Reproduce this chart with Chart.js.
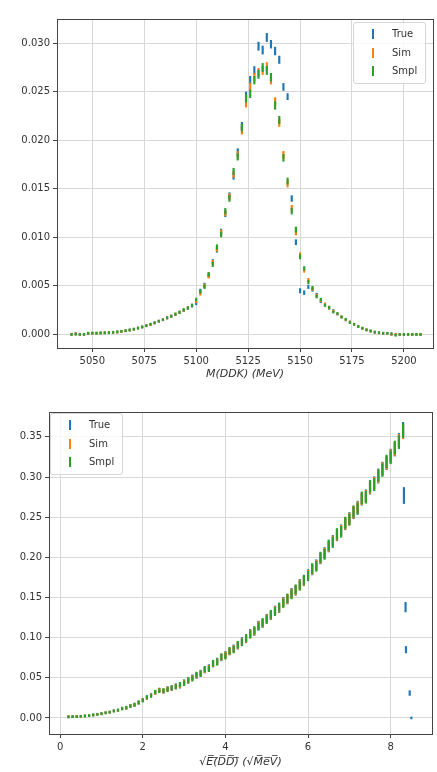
<!DOCTYPE html>
<html lang="en">
<head>
<meta charset="UTF-8" />
<title>True / Sim / Smpl</title>
<style>
  body { margin: 0; background: #fff; font-family: 'DejaVu Sans', sans-serif; }
  .wrap { position: relative; width: 437px; height: 772px; }
  canvas { position: absolute; left: 0; }
  #topChart { top: 0; }
  #botChart { top: 386px; }
  .legend { position: absolute; background: rgba(255,255,255,0.8); border: 1px solid #d6d6d6; border-radius: 3px; font-size: 10px; color: #333; padding: 2px 0; }
  .legend div { position: relative; height: 18.5px; line-height: 18.5px; padding-left: 38px; padding-right: 8px; }
  .legend span { position: absolute; left: 18px; top: 4px; width: 1.5px; height: 10px; }
</style>
</head>
<body>
<div class="wrap">
  <canvas id="topChart" width="437" height="386"></canvas>
  <canvas id="botChart" width="437" height="386"></canvas>
  <div class="legend" style="left:353px; top:22px;">
    <div><span style="background:#1f77b4"></span>True</div>
    <div><span style="background:#ff7f0e"></span>Sim</div>
    <div><span style="background:#2ca02c"></span>Smpl</div>
  </div>
  <div class="legend" style="left:50px; top:413px;">
    <div><span style="background:#1f77b4"></span>True</div>
    <div><span style="background:#ff7f0e"></span>Sim</div>
    <div><span style="background:#2ca02c"></span>Smpl</div>
  </div>
</div>

<script src="https://cdn.jsdelivr.net/npm/chart.js"></script>
<script>
// ---- top panel: M(DDK) spectrum, 2 MeV bins ----
const massX = [
  5040, 5042, 5044, 5046, 5048, 5050, 5052, 5054, 5056, 5058,
  5060, 5062, 5064, 5066, 5068, 5070, 5072, 5074, 5076, 5078,
  5080, 5082, 5084, 5086, 5088, 5090, 5092, 5094, 5096, 5098,
  5100, 5102, 5104, 5106, 5108, 5110, 5112, 5114, 5116, 5118,
  5120, 5122, 5124, 5126, 5128, 5130, 5132, 5134, 5136, 5138,
  5140, 5142, 5144, 5146, 5148, 5150, 5152, 5154, 5156, 5158,
  5160, 5162, 5164, 5166, 5168, 5170, 5172, 5174, 5176, 5178,
  5180, 5182, 5184, 5186, 5188, 5190, 5192, 5194, 5196, 5198,
  5200, 5202, 5204, 5206, 5208
];
const massTrue = [
  0, 0, 0.00001, 0.00002, 0.00004, 0.00004, 0.00005, 0.00008, 0.00009, 0.00011,
  0.00015, 0.00021, 0.00025, 0.00033, 0.00042, 0.00049, 0.00063, 0.00073, 0.00089, 0.001,
  0.0012, 0.00134, 0.00154, 0.00168, 0.0019, 0.00205, 0.0023, 0.00248, 0.00275, 0.00295,
  0.0032, 0.0045, 0.0051, 0.0061, 0.0075, 0.0087, 0.0106, 0.0124, 0.0143, 0.0163,
  0.0188, 0.0215, 0.0246, 0.0262, 0.0272, 0.0297, 0.0293, 0.0306, 0.0299, 0.0292,
  0.0283, 0.0255, 0.0245, 0.014, 0.0095, 0.0045, 0.0043, 0.0049, 0.0046, 0.0041,
  0.0034, 0.0031, 0.0027, 0.00245, 0.0021, 0.00182, 0.00148, 0.00126, 0.00098, 0.0008,
  0.00057, 0.00043, 0.00027, 0.00017, 0.00008, 0.00004, 0.00002, 0.00001, 0, 0,
  0, 0, 0, 0, 0
];
const massSim = [
  0, 0, 0.00001, 0.00002, 0.00003, 0.00004, 0.00005, 0.00007, 0.00009, 0.00012,
  0.00015, 0.0002, 0.00026, 0.00033, 0.00041, 0.0005, 0.00062, 0.00074, 0.00088, 0.00102,
  0.00118, 0.00136, 0.00152, 0.0017, 0.00188, 0.00207, 0.00228, 0.0025, 0.00272, 0.00298,
  0.0034, 0.0042, 0.005, 0.006, 0.0074, 0.0088, 0.0105, 0.0125, 0.0142, 0.0165,
  0.0185, 0.021, 0.0238, 0.0255, 0.0265, 0.027, 0.0272, 0.0276, 0.0262, 0.024,
  0.0218, 0.0185, 0.0155, 0.013, 0.0105, 0.0082, 0.0066, 0.0056, 0.0047, 0.004,
  0.0035, 0.0031, 0.00275, 0.0024, 0.0021, 0.0018, 0.0015, 0.00125, 0.001, 0.00078,
  0.00058, 0.00042, 0.00028, 0.00016, 0.00008, 0.00004, 0.00002, 0.00001, 0, 0,
  0, 0, 0, 0, 0
];
const massSmpl = [
  0, 0.00001, 0.00001, 0.00002, 0.00003, 0.00005, 0.00006, 0.00007, 0.0001, 0.00013,
  0.00016, 0.00019, 0.00027, 0.00034, 0.0004, 0.00052, 0.0006, 0.00076, 0.00086, 0.00105,
  0.00116, 0.00138, 0.0015, 0.00173, 0.00185, 0.0021, 0.00225, 0.00254, 0.0027, 0.003,
  0.0036, 0.0044, 0.0049, 0.0062, 0.0072, 0.009, 0.0103, 0.0127, 0.014, 0.0168,
  0.0183, 0.0213, 0.0243, 0.0248, 0.0262, 0.0268, 0.0275, 0.0272, 0.0265, 0.0236,
  0.0221, 0.0182, 0.0158, 0.0127, 0.0108, 0.008, 0.0068, 0.0054, 0.0048, 0.0039,
  0.0036, 0.003, 0.0028, 0.0023, 0.00215, 0.00175, 0.00155, 0.0012, 0.00102, 0.00076,
  0.0006, 0.0004, 0.0003, 0.00015, 0.00009, 0.00003, 0.00002, 0, 0.00001, 0,
  0, 0, 0, 0, 0
];
const massErr = [
  0, 0.00001, 0.00001, 0.00002, 0.00002, 0.00002, 0.00003, 0.00003, 0.00003, 0.00004,
  0.00004, 0.00005, 0.00005, 0.00006, 0.00006, 0.00007, 0.00007, 0.00008, 0.00008, 0.00009,
  0.00009, 0.0001, 0.0001, 0.00011, 0.00011, 0.00012, 0.00012, 0.00013, 0.00013, 0.00014,
  0.00015, 0.00017, 0.00019, 0.0002, 0.00022, 0.00024, 0.00026, 0.00028, 0.0003, 0.00032,
  0.00034, 0.00036, 0.00038, 0.0004, 0.0004, 0.00042, 0.00042, 0.00042, 0.0004, 0.0004,
  0.00038, 0.00036, 0.00032, 0.0003, 0.00026, 0.00022, 0.0002, 0.00018, 0.00016, 0.00015,
  0.00014, 0.00013, 0.00012, 0.00011, 0.0001, 0.00009, 0.00009, 0.00008, 0.00007, 0.00006,
  0.00005, 0.00005, 0.00004, 0.00003, 0.00002, 0.00002, 0.00001, 0.00001, 0, 0,
  0, 0, 0, 0, 0
];
const massXTicks = [5050, 5075, 5100, 5125, 5150, 5175, 5200];
const massYTicks = [0, 0.005, 0.010, 0.015, 0.020, 0.025, 0.030];

// ---- bottom panel: sqrt(E(DD)) spectrum ----
const energyX = [
  0.2, 0.3, 0.4, 0.5, 0.6, 0.7, 0.8, 0.9, 1.0, 1.1,
  1.2, 1.3, 1.4, 1.5, 1.6, 1.7, 1.8, 1.9, 2.0, 2.1,
  2.2, 2.3, 2.4, 2.5, 2.6, 2.7, 2.8, 2.9, 3.0, 3.1,
  3.2, 3.3, 3.4, 3.5, 3.6, 3.7, 3.8, 3.9, 4.0, 4.1,
  4.2, 4.3, 4.4, 4.5, 4.6, 4.7, 4.8, 4.9, 5.0, 5.1,
  5.2, 5.3, 5.4, 5.5, 5.6, 5.7, 5.8, 5.9, 6.0, 6.1,
  6.2, 6.3, 6.4, 6.5, 6.6, 6.7, 6.8, 6.9, 7.0, 7.1,
  7.2, 7.3, 7.4, 7.5, 7.6, 7.7, 7.8, 7.9, 8.0, 8.1,
  8.2, 8.3
];
const energyTrue = [
  0.0005, 0.0005, 0.001, 0.0011, 0.0019, 0.0024, 0.0032, 0.0043, 0.0049, 0.0065,
  0.0069, 0.009, 0.0093, 0.012, 0.0122, 0.0153, 0.016, 0.0196, 0.0222, 0.0255,
  0.0282, 0.032, 0.0348, 0.0332, 0.0365, 0.0366, 0.0398, 0.04, 0.0446, 0.046,
  0.0505, 0.0525, 0.0562, 0.0595, 0.0628, 0.067, 0.0708, 0.075, 0.0788, 0.0825,
  0.0868, 0.09, 0.0958, 0.098, 0.1058, 0.1075, 0.1158, 0.1175, 0.1242, 0.1275,
  0.1342, 0.1365, 0.1448, 0.1475, 0.1558, 0.1585, 0.1668, 0.1705, 0.1788, 0.1842,
  0.1908, 0.1982, 0.2058, 0.2132, 0.2208, 0.2272, 0.2338, 0.2412, 0.2488, 0.2552,
  0.2628, 0.2722, 0.2768, 0.2862, 0.2928, 0.3002, 0.3108, 0.3172, 0.3268, 0.3342,
  0.3462, 0.3598
];
const energySim = [
  0.0005, 0.0006, 0.0009, 0.0012, 0.0017, 0.0025, 0.0031, 0.0042, 0.005, 0.0063,
  0.0071, 0.0088, 0.0095, 0.0118, 0.0125, 0.015, 0.0163, 0.0192, 0.0225, 0.025,
  0.0285, 0.0315, 0.0345, 0.0335, 0.036, 0.037, 0.0392, 0.0405, 0.044, 0.0465,
  0.05, 0.053, 0.0555, 0.06, 0.062, 0.0675, 0.07, 0.0755, 0.078, 0.083,
  0.086, 0.0905, 0.095, 0.0985, 0.105, 0.108, 0.115, 0.118, 0.1235, 0.128,
  0.1335, 0.137, 0.144, 0.148, 0.155, 0.159, 0.166, 0.171, 0.178, 0.185,
  0.19, 0.199, 0.205, 0.214, 0.22, 0.228, 0.233, 0.242, 0.248, 0.256,
  0.262, 0.273, 0.276, 0.287, 0.292, 0.301, 0.31, 0.318, 0.326, 0.335,
  0.345, 0.356
];
const energySmpl = [
  0.0004, 0.0007, 0.0008, 0.0013, 0.0018, 0.0023, 0.0033, 0.004, 0.0052, 0.006,
  0.0074, 0.0085, 0.0099, 0.0113, 0.013, 0.0146, 0.0168, 0.0188, 0.0218, 0.0258,
  0.0278, 0.0322, 0.0338, 0.0342, 0.0352, 0.0378, 0.0386, 0.0415, 0.0432, 0.0474,
  0.049, 0.0538, 0.0548, 0.0608, 0.0612, 0.0682, 0.0694, 0.0762, 0.0772, 0.0838,
  0.0852, 0.0912, 0.0942, 0.0995, 0.1038, 0.1092, 0.1138, 0.119, 0.1225, 0.129,
  0.1325, 0.138, 0.1428, 0.149, 0.1538, 0.1602, 0.1648, 0.172, 0.1768, 0.1862,
  0.1888, 0.2002, 0.2038, 0.2152, 0.2188, 0.2292, 0.2318, 0.2432, 0.2468, 0.2572,
  0.2605, 0.2742, 0.2748, 0.2885, 0.2905, 0.3025, 0.3085, 0.3195, 0.3245, 0.3368,
  0.3435, 0.3575
];
const energyErr = [
  0.0003, 0.0003, 0.0004, 0.0005, 0.0006, 0.0007, 0.0008, 0.0009, 0.001, 0.0011,
  0.0012, 0.0013, 0.0014, 0.0015, 0.0016, 0.0017, 0.0018, 0.0019, 0.002, 0.0021,
  0.0022, 0.0023, 0.0024, 0.0025, 0.0026, 0.0027, 0.0028, 0.0029, 0.003, 0.0031,
  0.0032, 0.0033, 0.0034, 0.0035, 0.0036, 0.0037, 0.0038, 0.0039, 0.004, 0.0041,
  0.0042, 0.0043, 0.0044, 0.0045, 0.0046, 0.0047, 0.0048, 0.0049, 0.005, 0.0051,
  0.0052, 0.0053, 0.0054, 0.0055, 0.0056, 0.0057, 0.0058, 0.0059, 0.006, 0.0061,
  0.0062, 0.0063, 0.0064, 0.0065, 0.0066, 0.0067, 0.0068, 0.0069, 0.007, 0.0071,
  0.0072, 0.0073, 0.0074, 0.0075, 0.0076, 0.0077, 0.0078, 0.0079, 0.008, 0.0081,
  0.0082, 0.0083
];
// True points past the end of the Sim/Smpl range
const energyTailX = [8.32, 8.36, 8.37, 8.46, 8.5];
const energyTailTrue = [0.277, 0.138, 0.085, 0.031, 0.001];
const energyTailErr = [0.01, 0.006, 0.004, 0.003, 0.001];
const energyXTicks = [0, 2, 4, 6, 8];
const energyYTicks = [0, 0.05, 0.10, 0.15, 0.20, 0.25, 0.30, 0.35];

const colTrue = '#1f77b4', colSim = '#ff7f0e', colSmpl = '#2ca02c';

function errBars(xs, ys, errs) {
  return xs.map((x, i) => ({ x: x, y: [ys[i] - errs[i], ys[i] + errs[i]] }));
}

function errSet(label, color, data, order) {
  return {
    label: label, data: data, backgroundColor: color, borderWidth: 0,
    barThickness: 1.5, minBarLength: 2, grouped: false, order: order
  };
}

function makeChart(id, cfg) {
  const gridCol = '#d8d8d8', axisCol = '#444';
  const tickFont = { family: "'DejaVu Sans', sans-serif", size: 10 };
  return new Chart(document.getElementById(id), {
    type: 'bar',
    data: { datasets: cfg.datasets },
    options: {
      responsive: false,
      animation: false,
      layout: { padding: cfg.padding },
      plugins: { legend: { display: false }, tooltip: { enabled: false } },
      scales: {
        x: {
          type: 'linear', min: cfg.xMin, max: cfg.xMax, offset: false,
          grid: { color: gridCol, offset: false, tickLength: 4, tickColor: axisCol },
          border: { color: axisCol, width: 1 },
          ticks: { font: tickFont, color: '#333', padding: 3, maxRotation: 0, callback: v => String(v) },
          afterBuildTicks: s => { s.ticks = cfg.xTicks.map(v => ({ value: v })); },
          afterFit: s => { s.height = 38; },
          title: {
            display: true, text: cfg.xTitle, color: '#333',
            font: { family: "'DejaVu Sans', sans-serif", size: 11, style: 'italic' },
            padding: { top: 0, bottom: cfg.titlePad }
          }
        },
        y: {
          type: 'linear', min: cfg.yMin, max: cfg.yMax,
          grid: { color: gridCol, tickLength: 4, tickColor: axisCol },
          border: { color: axisCol, width: 1 },
          ticks: { font: tickFont, color: '#333', padding: 3, callback: v => v.toFixed(cfg.yDigits) },
          afterBuildTicks: s => { s.ticks = cfg.yTicks.map(v => ({ value: v })); },
          afterFit: s => { s.width = cfg.yWidth; }
        },
        x2: {
          type: 'linear', position: 'top',
          grid: { display: false, drawTicks: false }, ticks: { display: false },
          border: { color: axisCol, width: 1 },
          afterFit: s => { s.height = 0; }
        },
        y2: {
          type: 'linear', position: 'right',
          grid: { display: false, drawTicks: false }, ticks: { display: false },
          border: { color: axisCol, width: 1 },
          afterFit: s => { s.width = 0; }
        }
      }
    }
  });
}

makeChart('topChart', {
  datasets: [
    errSet('True', colTrue, errBars(massX, massTrue, massErr), 3),
    errSet('Sim', colSim, errBars(massX, massSim, massErr), 2),
    errSet('Smpl', colSmpl, errBars(massX, massSmpl, massErr), 1)
  ],
  padding: { top: 19, right: 4, left: 0, bottom: 0 },
  xMin: 5033, xMax: 5214, yMin: -0.0014, yMax: 0.0325,
  xTicks: massXTicks, yTicks: massYTicks, yDigits: 3, yWidth: 57,
  xTitle: 'M(DDK) (MeV)', titlePad: 5
});

makeChart('botChart', {
  datasets: [
    errSet('True', colTrue, errBars(energyX, energyTrue, energyErr)
      .concat(errBars(energyTailX, energyTailTrue, energyTailErr)), 3),
    errSet('Sim', colSim, errBars(energyX, energySim, energyErr), 2),
    errSet('Smpl', colSmpl, errBars(energyX, energySmpl, energyErr), 1)
  ],
  padding: { top: 26, right: 5, left: 0, bottom: 0 },
  xMin: -0.27, xMax: 9.0, yMin: -0.02, yMax: 0.381,
  xTicks: energyXTicks, yTicks: energyYTicks, yDigits: 2, yWidth: 49,
  xTitle: '\u221AE\u0305(\u0305D\u0305D\u0305)\u0305 (\u221AM\u0305e\u0305V\u0305)', titlePad: 3
});
</script>
</body>
</html>
